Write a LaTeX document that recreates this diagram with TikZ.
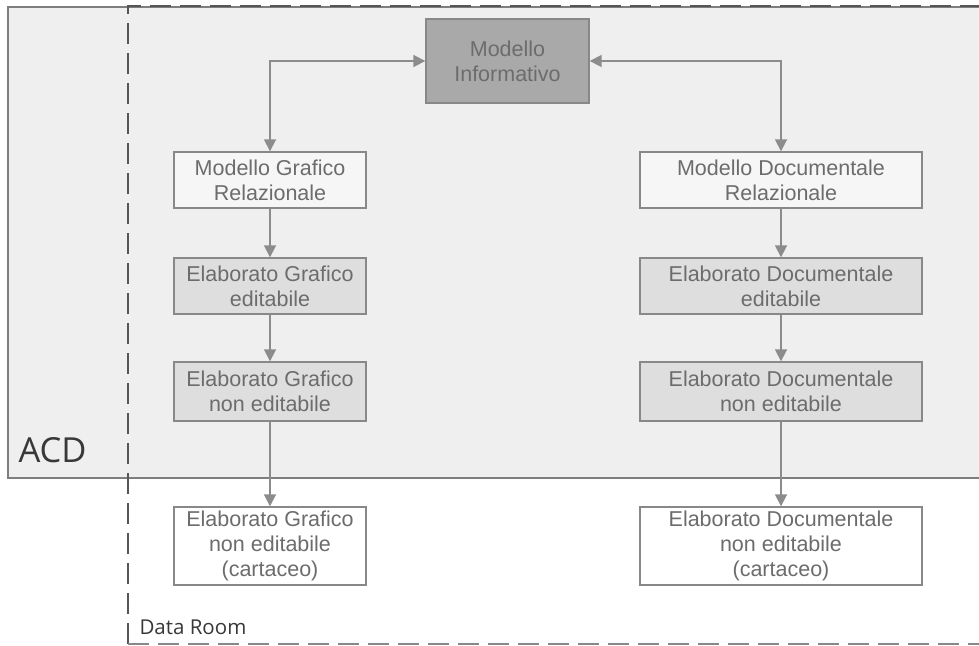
\documentclass[tikz,border=0pt]{standalone}
\usepackage{fontspec}
\setmainfont{Liberation Sans}
\newfontfamily\labelfont{Open Sans}
\usetikzlibrary{arrows.meta}
\definecolor{bgzone}{HTML}{EFEFEF}
\definecolor{zoneline}{HTML}{7E7E7E}
\definecolor{dashcol}{HTML}{555555}
\definecolor{boxline}{HTML}{888888}
\definecolor{boxtext}{HTML}{6C6C6C}
\definecolor{fillmid}{HTML}{DEDEDE}
\definecolor{filldark}{HTML}{A9A9A9}
\definecolor{filllight}{HTML}{F6F6F6}
\definecolor{arrowcol}{HTML}{8C8C8C}
\definecolor{labeltext}{HTML}{383838}
\tikzset{
  box/.style={draw=boxline, line width=1.4pt, rectangle, align=center,
    text=boxtext, inner sep=0pt,
    font=\fontsize{21.5}{25}\selectfont},
  leftbox/.style={box, minimum width=192pt},
  rightbox/.style={box, minimum width=282pt},
  flow/.style={draw=arrowcol, line width=1.8pt,
    -{Triangle[length=12pt,width=12pt]}},
  flowboth/.style={draw=arrowcol, line width=1.8pt,
    {Triangle[length=12pt,width=12pt]}-{Triangle[length=12pt,width=12pt]}},
  zonedash/.style={draw=dashcol, line width=2.6pt, dash pattern=on 21pt off 9pt}
}
\begin{document}
\begin{tikzpicture}[x=1pt,y=-1pt]
\useasboundingbox (0,0) rectangle (979,645);

% shared data environment (ACD)
\fill[bgzone] (8,7) rectangle (990,478);
\draw[zoneline, line width=1.3pt] (990,7) -- (8,7) -- (8,478) -- (990,478);

% Data Room boundary
\draw[zonedash] (128,644) -- (128,6) -- (990,6);
\draw[zonedash, draw=dashcol!70] (128,644) -- (990,644);

\node[text=labeltext, font=\labelfont\fontsize{34.5}{40}\selectfont, anchor=base west] (acd) at (15,462) {ACD};
\node[text=labeltext, font=\labelfont\fontsize{20.5}{24}\selectfont, anchor=base west] (dataroom) at (136,634) {Data Room};

% central model
\node[box, fill=filldark, minimum width=163pt, minimum height=84pt] (mi) at (507.5,61) {Modello\\Informativo};

% graphic branch
\node[leftbox, fill=filllight, minimum height=56pt] (mgr) at (270,180) {Modello Grafico\\Relazionale};
\node[leftbox, fill=fillmid, minimum height=56pt] (ege) at (270,286) {Elaborato Grafico\\editabile};
\node[leftbox, fill=fillmid, minimum height=59pt] (egne) at (270,391.5) {Elaborato Grafico\\non editabile};
\node[leftbox, fill=white, minimum height=78pt] (egnec) at (270,546) {Elaborato Grafico\\non editabile\\(cartaceo)};

% documental branch
\node[rightbox, fill=filllight, minimum height=56pt] (mdr) at (781,180) {Modello Documentale\\Relazionale};
\node[rightbox, fill=fillmid, minimum height=56pt] (ede) at (781,286) {Elaborato Documentale\\editabile};
\node[rightbox, fill=fillmid, minimum height=59pt] (edne) at (781,391.5) {Elaborato Documentale\\non editabile};
\node[rightbox, fill=white, minimum height=78pt] (ednec) at (781,546) {Elaborato Documentale\\non editabile\\(cartaceo)};

% connectors
\draw[flowboth] (mi.west) -| (mgr.north);
\draw[flowboth] (mi.east) -| (mdr.north);
\draw[flow] (mgr) -- (ege);
\draw[flow] (ege) -- (egne);
\draw[flow] (egne) -- (egnec);
\draw[flow] (mdr) -- (ede);
\draw[flow] (ede) -- (edne);
\draw[flow] (edne) -- (ednec);
\end{tikzpicture}
\end{document}
